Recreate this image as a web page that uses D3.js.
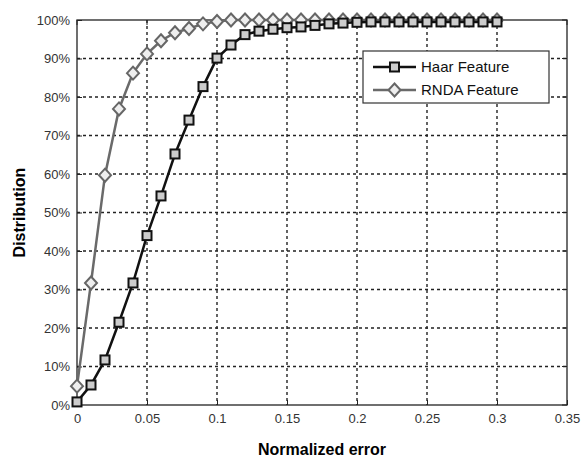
<!DOCTYPE html>
<html>
<head>
<meta charset="utf-8">
<script src="https://cdn.jsdelivr.net/npm/d3@7"></script>
<style>
  body { margin: 0; background: #fff; }
  text { font-family: "Liberation Sans", Arial, sans-serif; }
</style>
</head>
<body>
<svg id="svg" width="582" height="462"></svg>
<script>
// error thresholds, 0 .. 0.3 step 0.01
var errs = [0,0.01,0.02,0.03,0.04,0.05,0.06,0.07,0.08,0.09,0.1,0.11,0.12,0.13,0.14,0.15,0.16,0.17,0.18,0.19,0.2,0.21,0.22,0.23,0.24,0.25,0.26,0.27,0.28,0.29,0.3];
var haar = [0.8,5.2,11.7,21.5,31.7,44,54.3,65.2,74,82.7,90.1,93.5,96.2,97.1,97.6,98,98.2,98.6,99,99.2,99.4,99.5,99.5,99.5,99.5,99.5,99.5,99.5,99.5,99.5,99.5];
var rnda = [4.9,31.7,59.7,76.9,86.2,91.2,94.6,96.7,97.8,99,99.6,100,100,100,100,100,100,100,100,100,100,100,100,100,100,100,100,100,100,100,100];
var xTicks = [0,0.05,0.1,0.15,0.2,0.25,0.3,0.35];
var yTicks = [0,10,20,30,40,50,60,70,80,90,100];

var svg = d3.select("#svg"),
    margin = {top: 20, right: 15, bottom: 57, left: 77},
    width = 582 - margin.left - margin.right,
    height = 462 - margin.top - margin.bottom;

var x = d3.scaleLinear().domain([0, 0.35]).range([0, width]);
var y = d3.scaleLinear().domain([0, 100]).range([height, 0]);

var g = svg.append("g").attr("transform", "translate(" + margin.left + "," + margin.top + ")");

// grid
g.selectAll(".gx").data(xTicks.slice(1, -1)).enter().append("line")
    .attr("x1", d => x(d)).attr("x2", d => x(d))
    .attr("y1", 0).attr("y2", height)
    .style("stroke", "#111").style("stroke-width", 1.3).style("stroke-dasharray", "3,3");
g.selectAll(".gy").data(yTicks.slice(1, -1)).enter().append("line")
    .attr("y1", d => y(d)).attr("y2", d => y(d))
    .attr("x1", 0).attr("x2", width)
    .style("stroke", "#222").style("stroke-width", 1.3).style("stroke-dasharray", "3,3");

// box
g.append("rect").attr("width", width).attr("height", height)
    .style("fill", "none").style("stroke", "#222").style("stroke-width", 1.3);

// axes, matlab style ticks inside
var xAxis = d3.axisBottom(x).tickValues(xTicks).tickSizeInner(-5).tickSizeOuter(0).tickPadding(9)
    .tickFormat(d => d === 0 ? "0" : String(+d.toFixed(2)));
var yAxis = d3.axisLeft(y).tickValues(yTicks).tickSizeInner(-5).tickSizeOuter(0).tickPadding(7)
    .tickFormat(d => d + "%");

var ax = g.append("g").attr("transform", "translate(0," + height + ")").call(xAxis);
var ay = g.append("g").call(yAxis);
[ax, ay].forEach(a => {
  a.select(".domain").remove();
  a.selectAll("line").style("stroke", "#222");
  a.selectAll("text").style("font-size", "13px").style("fill", "#333");
});
// top/right ticks
g.selectAll(".tt").data(xTicks).enter().append("line")
    .attr("x1", d => x(d)).attr("x2", d => x(d)).attr("y1", 0).attr("y2", 5).style("stroke", "#222");
g.selectAll(".tr").data(yTicks).enter().append("line")
    .attr("y1", d => y(d)).attr("y2", d => y(d)).attr("x1", width).attr("x2", width - 5).style("stroke", "#222");

var line = d3.line().x(d => x(d[0])).y(d => y(d[1]));
var diamond = "M0,-6.5L6,0L0,6.5L-6,0Z";

// RNDA series (gray diamonds)
var rd = d3.zip(errs, rnda);
g.append("path").datum(rd).attr("d", line)
    .style("fill", "none").style("stroke", "#6a6a6a").style("stroke-width", 2.5);
g.selectAll(".rm").data(rd).enter().append("path")
    .attr("transform", d => "translate(" + x(d[0]) + "," + y(d[1]) + ")")
    .attr("d", diamond)
    .style("fill", "#eee").style("stroke", "#666").style("stroke-width", 2);

// Haar series (black squares)
var hd = d3.zip(errs, haar);
g.append("path").datum(hd).attr("d", line)
    .style("fill", "none").style("stroke", "#111").style("stroke-width", 2.5);
g.selectAll(".hm").data(hd).enter().append("rect")
    .attr("x", d => x(d[0]) - 4.5).attr("y", d => y(d[1]) - 4.5)
    .attr("width", 9).attr("height", 9)
    .style("fill", "#ccc").style("stroke", "#111").style("stroke-width", 2);

// legend
var lg = g.append("g").attr("transform", "translate(" + (363 - margin.left) + "," + (51 - margin.top) + ")");
lg.append("rect").attr("width", 186).attr("height", 52)
    .style("fill", "#fff").style("stroke", "#333").style("stroke-width", 1.2);
var items = [
  {name: "Haar Feature", color: "#111", mark: "sq"},
  {name: "RNDA Feature", color: "#6a6a6a", mark: "di"}
];
items.forEach((it, i) => {
  var yy = 16 + i * 23;
  lg.append("line").attr("x1", 10).attr("x2", 53).attr("y1", yy).attr("y2", yy)
      .style("stroke", it.color).style("stroke-width", 2.5);
  if (it.mark === "sq") {
    lg.append("rect").attr("x", 27).attr("y", yy - 4.5).attr("width", 9).attr("height", 9)
        .style("fill", "#ccc").style("stroke", "#111").style("stroke-width", 2);
  } else {
    lg.append("path").attr("transform", "translate(31.5," + yy + ")").attr("d", diamond)
        .style("fill", "#eee").style("stroke", "#666").style("stroke-width", 2);
  }
  lg.append("text").attr("x", 58).attr("y", yy).attr("dy", "0.36em")
      .style("font-size", "15px").style("fill", "#111").text(it.name);
});

// axis titles
svg.append("text")
    .attr("x", margin.left + width / 2).attr("y", 455)
    .style("text-anchor", "middle").style("font-weight", "bold").style("font-size", "16px")
    .text("Normalized error");
svg.append("text")
    .attr("transform", "translate(25," + (margin.top + height / 2) + ") rotate(-90)")
    .style("text-anchor", "middle").style("font-weight", "bold").style("font-size", "16px")
    .text("Distribution");
</script>
</body>
</html>
